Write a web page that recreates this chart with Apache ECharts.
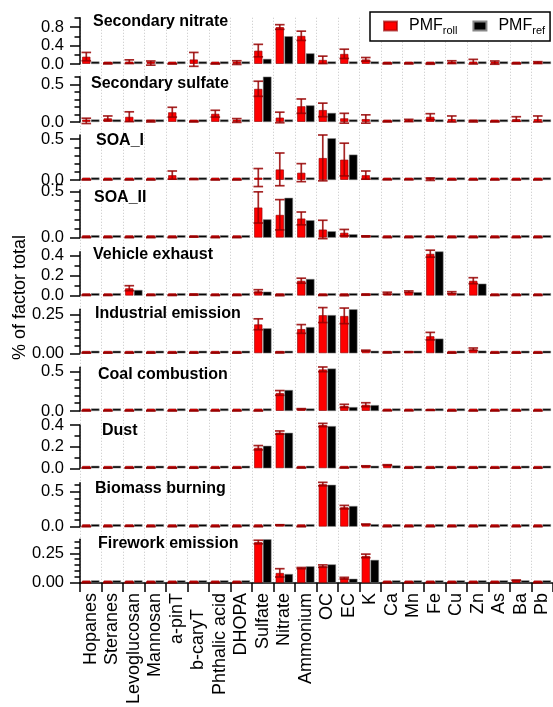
<!DOCTYPE html>
<html>
<head>
<meta charset="utf-8">
<script src="https://cdn.jsdelivr.net/npm/echarts@6/dist/echarts.min.js"></script>
<style>
  html, body { margin: 0; padding: 0; background: #fff; }
  #main { width: 553px; height: 707px; }
</style>
</head>
<body>
<div id="main"></div>
<script>
// species on the x axis
const species = ['Hopanes', 'Steranes', 'Levoglucosan', 'Mannosan', 'a-pinT', 'b-caryT', 'Phthalic acid', 'DHOPA',
  'Sulfate', 'Nitrate', 'Ammonium', 'OC', 'EC', 'K', 'Ca', 'Mn', 'Fe', 'Cu', 'Zn', 'As', 'Ba', 'Pb'];

const factorNames = ['Secondary nitrate', 'Secondary sulfate', 'SOA_I', 'SOA_II', 'Vehicle exhaust',
  'Industrial emission', 'Coal combustion', 'Dust', 'Biomass burning', 'Firework emission'];

// fraction of factor total: PMF_roll mean, its error, and PMF_ref
const rollSecNitrate = [0.16, 0.01, 0.05, 0.02, 0.005, 0.1, 0.005, 0.03, 0.29, 0.8, 0.61, 0.09, 0.22, 0.1, 0.01, 0.01, 0.005, 0.04, 0.05, 0.03, 0.01, 0.03];
const errSecNitrate  = [0.09, 0.01, 0.04, 0.045, 0.005, 0.15, 0.005, 0.04, 0.135, 0.05, 0.1, 0.08, 0.1, 0.04, 0.01, 0.01, 0.01, 0.03, 0.05, 0.035, 0.01, 0.02];
const refSecNitrate  = [0.002, 0.002, 0.002, 0.002, 0.002, 0.002, 0.002, 0.002, 0.11, 0.6, 0.23, 0.002, 0.002, 0.01, 0.002, 0.002, 0.002, 0.002, 0.002, 0.002, 0.002, 0.002];

const rollSecSulfate = [0.015, 0.05, 0.07, 0.01, 0.13, 0.005, 0.11, 0.02, 0.44, 0.06, 0.21, 0.16, 0.05, 0.04, 0.005, 0.02, 0.07, 0.04, 0.01, 0.005, 0.04, 0.04];
const errSecSulfate  = [0.035, 0.03, 0.065, 0.01, 0.065, 0.005, 0.045, 0.025, 0.1, 0.07, 0.095, 0.09, 0.065, 0.055, 0.005, 0.015, 0.04, 0.04, 0.01, 0.005, 0.03, 0.04];
const refSecSulfate  = [0.002, 0.002, 0.002, 0.002, 0.002, 0.002, 0.002, 0.002, 0.6, 0.002, 0.22, 0.12, 0.002, 0.002, 0.002, 0.002, 0.002, 0.002, 0.002, 0.002, 0.002, 0.002];

const rollSoa1 = [0.003, 0.003, 0.003, 0.003, 0.06, 0.01, 0.003, 0.003, 0.03, 0.13, 0.09, 0.27, 0.25, 0.06, 0.005, 0.005, 0.01, 0.003, 0.003, 0.003, 0.003, 0.003];
const errSoa1  = [0.002, 0.002, 0.002, 0.002, 0.05, 0.005, 0.002, 0.002, 0.11, 0.2, 0.11, 0.28, 0.2, 0.05, 0.003, 0.003, 0.015, 0.002, 0.002, 0.002, 0.002, 0.002];
const refSoa1  = [0.002, 0.002, 0.002, 0.002, 0.03, 0.002, 0.002, 0.002, 0.002, 0.03, 0.03, 0.51, 0.31, 0.035, 0.002, 0.002, 0.002, 0.002, 0.002, 0.002, 0.002, 0.002];

const rollSoa2 = [0.003, 0.003, 0.003, 0.003, 0.003, 0.01, 0.003, 0.003, 0.33, 0.25, 0.21, 0.09, 0.055, 0.015, 0.003, 0.003, 0.005, 0.003, 0.003, 0.003, 0.003, 0.003];
const errSoa2  = [0.002, 0.002, 0.002, 0.002, 0.002, 0.003, 0.002, 0.002, 0.17, 0.165, 0.07, 0.1, 0.035, 0.005, 0.002, 0.002, 0.002, 0.002, 0.002, 0.002, 0.002, 0.002];
const refSoa2  = [0.002, 0.002, 0.002, 0.002, 0.002, 0.002, 0.002, 0.002, 0.2, 0.435, 0.19, 0.07, 0.037, 0.005, 0.002, 0.002, 0.002, 0.002, 0.002, 0.002, 0.002, 0.002];

const rollVehicle = [0.005, 0.005, 0.075, 0.005, 0.005, 0.01, 0.005, 0.005, 0.045, 0.005, 0.15, 0.005, 0.005, 0.01, 0.025, 0.04, 0.42, 0.03, 0.15, 0.005, 0.005, 0.005];
const errVehicle  = [0.003, 0.003, 0.025, 0.003, 0.003, 0.005, 0.003, 0.003, 0.015, 0.005, 0.025, 0.003, 0.005, 0.005, 0.01, 0.008, 0.035, 0.01, 0.03, 0.003, 0.003, 0.003];
const refVehicle  = [0.002, 0.002, 0.057, 0.002, 0.002, 0.005, 0.002, 0.002, 0.04, 0.002, 0.167, 0.002, 0.002, 0.002, 0.025, 0.035, 0.45, 0.02, 0.12, 0.002, 0.002, 0.002];

const rollIndustrial = [0.003, 0.003, 0.003, 0.003, 0.003, 0.003, 0.003, 0.003, 0.186, 0.005, 0.156, 0.245, 0.24, 0.017, 0.005, 0.008, 0.11, 0.003, 0.026, 0.003, 0.003, 0.003];
const errIndustrial  = [0.002, 0.002, 0.002, 0.002, 0.002, 0.002, 0.002, 0.002, 0.035, 0.003, 0.028, 0.048, 0.05, 0.003, 0.003, 0.002, 0.024, 0.002, 0.008, 0.002, 0.002, 0.002];
const refIndustrial  = [0.002, 0.002, 0.002, 0.002, 0.002, 0.002, 0.002, 0.002, 0.16, 0.002, 0.168, 0.245, 0.282, 0.013, 0.002, 0.005, 0.094, 0.002, 0.017, 0.002, 0.002, 0.002];

const rollCoal = [0.003, 0.003, 0.003, 0.003, 0.003, 0.003, 0.003, 0.003, 0.003, 0.23, 0.025, 0.53, 0.065, 0.08, 0.005, 0.005, 0.01, 0.003, 0.003, 0.003, 0.003, 0.003];
const errCoal  = [0.002, 0.002, 0.002, 0.002, 0.002, 0.002, 0.002, 0.002, 0.002, 0.03, 0.005, 0.03, 0.02, 0.025, 0.002, 0.002, 0.003, 0.002, 0.002, 0.002, 0.002, 0.002];
const refCoal  = [0.002, 0.002, 0.002, 0.002, 0.002, 0.002, 0.002, 0.002, 0.002, 0.267, 0.016, 0.54, 0.05, 0.075, 0.002, 0.002, 0.002, 0.002, 0.002, 0.002, 0.002, 0.002];

const rollDust = [0.003, 0.003, 0.003, 0.003, 0.003, 0.003, 0.003, 0.003, 0.19, 0.33, 0.005, 0.4, 0.005, 0.02, 0.03, 0.003, 0.003, 0.003, 0.003, 0.003, 0.003, 0.003];
const errDust  = [0.002, 0.002, 0.002, 0.002, 0.002, 0.002, 0.002, 0.002, 0.02, 0.015, 0.002, 0.015, 0.002, 0.003, 0.003, 0.002, 0.002, 0.002, 0.002, 0.002, 0.002, 0.002];
const refDust  = [0.002, 0.002, 0.002, 0.002, 0.002, 0.002, 0.002, 0.002, 0.208, 0.328, 0.002, 0.39, 0.002, 0.015, 0.026, 0.002, 0.002, 0.002, 0.002, 0.002, 0.002, 0.002];

const rollBiomass = [0.003, 0.003, 0.006, 0.003, 0.003, 0.003, 0.003, 0.003, 0.003, 0.024, 0.003, 0.61, 0.28, 0.034, 0.003, 0.003, 0.003, 0.003, 0.003, 0.003, 0.003, 0.003];
const errBiomass  = [0.002, 0.002, 0.002, 0.002, 0.002, 0.002, 0.002, 0.002, 0.002, 0.004, 0.002, 0.025, 0.025, 0.004, 0.002, 0.002, 0.002, 0.002, 0.002, 0.002, 0.002, 0.002];
const refBiomass  = [0.002, 0.002, 0.002, 0.002, 0.002, 0.002, 0.002, 0.002, 0.002, 0.014, 0.002, 0.6, 0.296, 0.02, 0.002, 0.002, 0.002, 0.002, 0.002, 0.002, 0.002, 0.002];

const rollFirework = [0.003, 0.003, 0.003, 0.003, 0.003, 0.003, 0.003, 0.003, 0.345, 0.085, 0.125, 0.142, 0.04, 0.228, 0.003, 0.003, 0.003, 0.003, 0.003, 0.003, 0.022, 0.003];
const errFirework  = [0.002, 0.002, 0.002, 0.002, 0.002, 0.002, 0.002, 0.002, 0.015, 0.035, 0.005, 0.01, 0.007, 0.015, 0.002, 0.002, 0.002, 0.002, 0.002, 0.002, 0.002, 0.002];
const refFirework  = [0.002, 0.002, 0.002, 0.002, 0.002, 0.002, 0.002, 0.002, 0.368, 0.075, 0.14, 0.156, 0.035, 0.194, 0.002, 0.002, 0.002, 0.002, 0.002, 0.002, 0.013, 0.002];

// y axis of each panel: top of range, labelled ticks, minor tick step
const yMax = [1.0, 0.6, 0.55, 0.52, 0.44, 0.282, 0.556, 0.4, 0.63, 0.368];
const yTickLabels = [
  ['0.0', '0.4', '0.8'], ['0.0', '0.5'], ['0.0', '0.5'], ['0.0', '0.5'], ['0.0', '0.2', '0.4'],
  ['0.00', '0.25'], ['0.0', '0.5'], ['0.0', '0.2', '0.4'], ['0.0', '0.5'], ['0.00', '0.25']
];
const yMinorStep = [0.2, 0.1, 0.1, 0.1, 0.1, 0.05, 0.1, 0.1, 0.1, 0.05];

const rollAll = [rollSecNitrate, rollSecSulfate, rollSoa1, rollSoa2, rollVehicle, rollIndustrial, rollCoal, rollDust, rollBiomass, rollFirework];
const errAll = [errSecNitrate, errSecSulfate, errSoa1, errSoa2, errVehicle, errIndustrial, errCoal, errDust, errBiomass, errFirework];
const refAll = [refSecNitrate, refSecSulfate, refSoa1, refSoa2, refVehicle, refIndustrial, refCoal, refDust, refBiomass, refFirework];

// layout (pixels)
const panelTop = [17.75, 76.7, 135, 190, 251.7, 309.3, 367.3, 425, 482.7, 539.3];
const panelZero = [64, 122, 180, 237.7, 295.7, 353.3, 411, 468.3, 526.7, 585];
const titlePos = [[93, 20], [91, 82], [96, 139], [94, 196], [93, 253.5], [95, 312.5], [98, 373], [102, 429], [95, 487], [98, 542.5]];

const font = 'Liberation Sans, Arial, sans-serif';
const barW = 8.5;
const gapFrac = 0.05;
const errOffset = -barW * (1 + gapFrac) / 2;

function renderErr(params, api) {
  const c = api.value(0);
  const hi = api.coord([c, api.value(2)]);
  const lo = api.coord([c, api.value(1)]);
  const x = hi[0] + errOffset;
  const cap = 4.8;
  const style = { stroke: 'rgba(150,0,0,0.85)', lineWidth: 1.7, fill: null };
  return {
    type: 'group',
    children: [
      { type: 'line', shape: { x1: x, y1: hi[1], x2: x, y2: lo[1] }, style: style },
      { type: 'line', shape: { x1: x - cap, y1: hi[1], x2: x + cap, y2: hi[1] }, style: style },
      { type: 'line', shape: { x1: x - cap, y1: lo[1], x2: x + cap, y2: lo[1] }, style: style }
    ]
  };
}

const grids = [], xAxes = [], yAxes = [], series = [], titles = [];

factorNames.forEach(function (name, i) {
  const last = i === factorNames.length - 1;
  grids.push({ left: 80, right: 0, top: panelTop[i], height: panelZero[i] - panelTop[i] });

  xAxes.push({
    type: 'category', gridIndex: i, data: species,
    axisLine: { show: last, lineStyle: { color: '#000', width: 1.5 } },
    axisTick: { show: last, interval: 0, length: 9, lineStyle: { color: '#000', width: 1.5 } },
    axisLabel: {
      show: last, interval: 0, rotate: 90, margin: 10, fontSize: 18, color: '#000', fontFamily: font,
      formatter: function (v) { return v === 'b-caryT' ? '{o|' + v + '}' : v; },
      rich: { o: { fontSize: 18, fontFamily: font, color: '#000', padding: [0, 16, 0, 0] } }
    },
    splitLine: { show: false }
  });

  const labels = yTickLabels[i];
  const majors = labels.map(Number);
  const minors = [];
  for (let k = 0; k * yMinorStep[i] <= yMax[i] + 1e-9; k++) minors.push(+(k * yMinorStep[i]).toFixed(3));

  yAxes.push({
    type: 'value', gridIndex: i, min: 0, max: yMax[i], position: 'left',
    axisLine: { show: true, lineStyle: { color: '#000', width: 1.5 } },
    axisTick: { show: true, length: 10, customValues: majors, lineStyle: { color: '#000', width: 1.5 } },
    axisLabel: {
      customValues: majors, margin: 16, fontSize: 16.5, color: '#000', fontFamily: font,
      formatter: function (v) {
        const j = majors.findIndex(function (m) { return Math.abs(m - v) < 1e-9; });
        return j >= 0 ? labels[j] : '';
      }
    },
    splitLine: { show: false }
  });
  yAxes.push({
    type: 'value', gridIndex: i, min: 0, max: yMax[i], position: 'left',
    axisLine: { show: false },
    axisTick: { show: true, length: 5.5, customValues: minors, lineStyle: { color: '#000', width: 1.5 } },
    axisLabel: { show: false },
    splitLine: { show: false }
  });

  series.push({
    type: 'bar', name: 'PMF_roll', xAxisIndex: i, yAxisIndex: 2 * i,
    data: rollAll[i], barWidth: barW, barGap: (gapFrac * 100) + '%', barMinHeight: 2.5,
    itemStyle: { color: '#ff0000', borderColor: 'rgba(150,0,0,0.65)', borderWidth: 1 }
  });
  series.push({
    type: 'bar', name: 'PMF_ref', xAxisIndex: i, yAxisIndex: 2 * i,
    data: refAll[i], barWidth: barW, barGap: (gapFrac * 100) + '%', barMinHeight: 2.5,
    itemStyle: { color: '#000', borderColor: '#888', borderWidth: 0.5 }
  });
  series.push({
    type: 'custom', name: 'err', xAxisIndex: i, yAxisIndex: 2 * i, z: 5, silent: true,
    renderItem: renderErr,
    data: rollAll[i].map(function (v, k) { return [k, v - errAll[i][k], v + errAll[i][k]]; })
  });

  titles.push({
    text: name, left: titlePos[i][0], top: titlePos[i][1] - 6.5, padding: 0,
    textStyle: { fontSize: 16, fontWeight: 'bold', color: '#000', fontFamily: font }
  });
});

// full-height grid carrying the dotted category separators
const sepGrid = factorNames.length;
grids.push({ left: 80, right: 0, top: panelTop[0], height: panelZero[sepGrid - 1] - panelTop[0] });
xAxes.push({
  type: 'category', gridIndex: sepGrid, data: species,
  axisLine: { show: false }, axisTick: { show: false, interval: 0 }, axisLabel: { show: false, interval: 0 },
  splitLine: { show: true, interval: 0, lineStyle: { color: '#c4c4c4', width: 1, type: [1, 2] } }
});
yAxes.push({ type: 'value', gridIndex: sepGrid, show: false });

const chart = echarts.init(document.getElementById('main'));
chart.setOption({
  animation: false,
  backgroundColor: '#fff',
  title: titles,
  grid: grids,
  xAxis: xAxes,
  yAxis: yAxes,
  series: series,
  legend: {
    data: ['PMF_roll', 'PMF_ref'],
    left: 370, top: 12,
    backgroundColor: '#fff', borderColor: '#000', borderWidth: 1.5, borderRadius: 0,
    padding: [6, 5, 5, 13],
    itemWidth: 13, itemHeight: 9, itemGap: 15,
    icon: 'rect',
    formatter: function (n) { return n === 'PMF_roll' ? '{m|PMF}{s|roll}' : '{m|PMF}{s|ref}'; },
    textStyle: {
      rich: {
        m: { fontSize: 16, fontFamily: font, color: '#000', padding: [0, 0, 0, 7] },
        s: { fontSize: 11, fontFamily: font, color: '#000', padding: [9, 0, 0, 0] }
      }
    }
  },
  graphic: [{
    type: 'text', x: 20.5, y: 297.5, rotation: Math.PI / 2,
    style: { text: '% of factor total', font: '18px ' + font, fill: '#000', align: 'center', verticalAlign: 'middle' }
  }]
});
</script>
</body>
</html>
